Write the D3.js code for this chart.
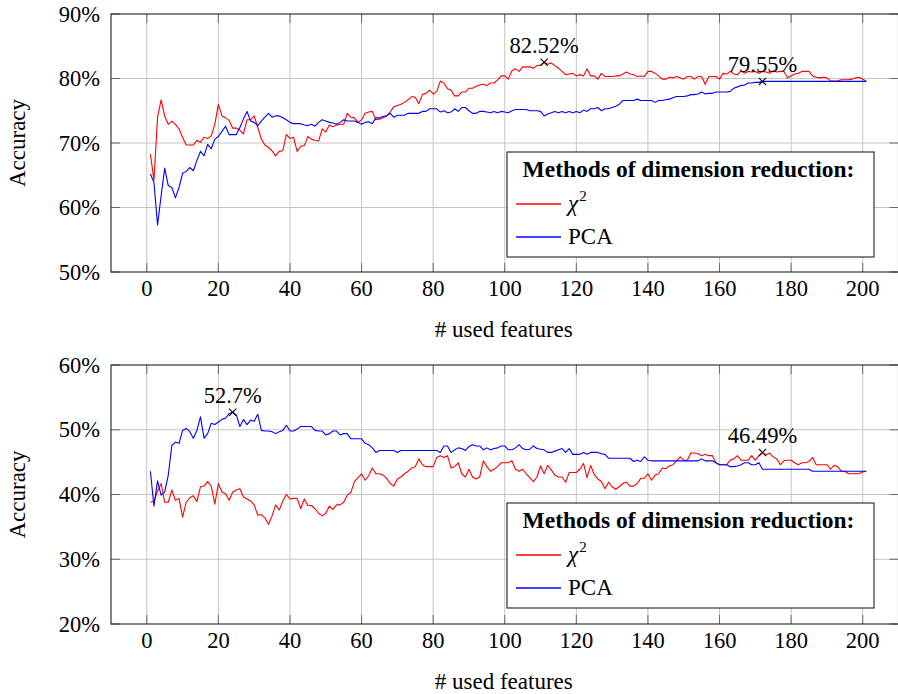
<!DOCTYPE html>
<html>
<head>
<meta charset="utf-8">
<script src="https://cdn.jsdelivr.net/npm/d3@7"></script>
<style>
  body { margin: 0; background: #fff; }
  svg { display: block; }
</style>
</head>
<body>
<svg id="chart" width="898" height="694"></svg>
<script>
// Number of features used (x values)
const features = d3.range(1, 202);
const xTicks = d3.range(0, 201, 20);
const topYTicks = [50, 60, 70, 80, 90];
const bottomYTicks = [20, 30, 40, 50, 60];
const seriesNames = ["\u03c7", "PCA"];
const legendTitle = "Methods of dimension reduction:";
const xLabel = "# used features";
const yLabel = "Accuracy";

// Upper plot: accuracy (%) per number of features
const chi2Top = [
  68.3, 64.2, 74.0, 76.7, 74.2, 72.9, 73.4, 72.9, 72.2, 70.9,
  69.7, 69.7, 69.7, 70.4, 70.1, 70.9, 70.7, 71.1, 72.9, 76.0,
  74.2, 73.9, 73.5, 72.3, 72.3, 72.0, 71.4, 73.6, 73.6, 74.2,
  72.4, 70.6, 69.7, 69.3, 68.8, 68.0, 68.7, 68.8, 71.3, 70.7,
  70.9, 68.7, 69.5, 69.6, 71.0, 70.6, 70.4, 70.3, 72.2, 71.7,
  72.8, 72.5, 72.8, 72.9, 72.9, 74.6, 74.0, 73.9, 73.2, 73.6,
  74.6, 74.8, 74.9, 73.6, 73.7, 73.9, 74.2, 74.8, 75.6, 75.8,
  76.0, 76.3, 76.7, 77.2, 77.1, 76.1, 77.5, 77.7, 78.2, 77.6,
  78.0, 79.6, 79.3, 78.4, 78.2, 77.3, 77.3, 77.9, 77.9, 78.5,
  78.5, 78.8, 79.0, 79.1, 78.9, 79.3, 79.3, 79.8, 80.4, 80.4,
  79.9, 81.2, 81.5, 81.1, 81.8, 81.8, 81.8, 81.6, 82.0, 82.1,
  82.52, 82.2, 82.4, 82.0, 81.6, 81.1, 80.6, 80.7, 80.8, 80.4,
  80.6, 80.4, 81.5, 80.4, 80.4, 79.9, 80.8, 80.3, 80.3, 80.3,
  80.4, 80.4, 80.7, 81.0, 80.7, 80.6, 80.3, 80.4, 80.3, 81.1,
  81.1, 80.8, 80.4, 79.9, 79.9, 80.2, 80.1, 80.3, 80.1, 79.9,
  80.3, 80.3, 79.9, 80.3, 80.3, 79.1, 80.3, 80.3, 80.3, 79.9,
  80.8, 80.7, 81.1, 80.7, 80.6, 81.2, 80.8, 81.1, 81.0, 81.1,
  80.8, 81.1, 81.0, 80.8, 81.2, 81.0, 81.1, 81.1, 80.1, 80.4,
  80.7, 80.8, 81.1, 81.1, 81.1, 80.4, 80.2, 80.1, 80.2, 80.1,
  79.6, 79.6, 79.6, 79.8, 79.8, 79.8, 79.9, 80.1, 80.2, 79.9,
  79.6
];
const pcaTop = [
  65.2, 63.9, 57.3, 61.8, 66.1, 63.4, 63.1, 61.5, 63.1, 65.3,
  65.6, 66.2, 65.7, 67.3, 68.7, 68.0, 69.8, 69.1, 70.6, 71.0,
  71.8, 72.6, 71.3, 71.3, 71.3, 72.4, 73.7, 74.9, 73.4, 73.2,
  72.7, 73.4, 74.0, 74.6, 74.0, 74.2, 74.2, 73.9, 73.6, 73.2,
  73.0, 73.0, 73.0, 72.8, 72.7, 72.9, 72.6, 73.2, 73.6, 73.4,
  73.2, 73.1, 72.9, 73.2, 73.6, 73.4, 73.4, 73.4, 73.2, 72.9,
  73.2, 73.3, 73.0, 73.9, 73.9, 74.1, 74.2, 74.6, 74.0, 74.3,
  74.3, 74.3, 74.6, 74.6, 74.6, 74.6, 74.9, 74.9, 75.3, 75.3,
  75.3, 74.8, 75.0, 74.7, 74.8, 75.3, 74.9, 75.5, 75.5, 75.0,
  74.6, 74.6, 74.9, 74.9, 74.8, 74.7, 74.9, 74.7, 74.9, 74.8,
  74.7, 75.0, 75.2, 75.2, 75.2, 75.2, 75.0, 75.0, 75.0, 74.9,
  74.2, 74.5, 74.7, 74.9, 74.7, 74.9, 74.7, 74.9, 74.7, 74.9,
  74.7, 75.1, 74.9, 75.3, 75.3, 75.5, 75.0, 75.3, 75.3, 75.5,
  75.7, 76.0, 76.6, 76.6, 76.6, 76.6, 76.8, 76.6, 76.6, 76.6,
  76.6, 76.3, 76.6, 76.6, 76.7, 76.8, 77.0, 77.2, 77.2, 77.2,
  77.3, 77.5, 77.5, 77.6, 77.9, 77.6, 77.7, 77.7, 77.9, 77.9,
  77.9, 77.9, 78.0, 78.5, 78.7, 78.9, 79.0, 79.3, 79.3, 79.4,
  79.4, 79.55, 79.55, 79.55, 79.55, 79.55, 79.55, 79.55, 79.55, 79.55,
  79.55, 79.55, 79.55, 79.55, 79.55, 79.55, 79.55, 79.55, 79.55, 79.55,
  79.55, 79.55, 79.55, 79.55, 79.55, 79.55, 79.55, 79.55, 79.55, 79.55,
  79.55
];

// Lower plot: accuracy (%) per number of features
const chi2Bottom = [
  38.8, 39.0, 40.5, 41.7, 38.8, 38.8, 40.7, 39.1, 39.4, 36.5,
  38.8, 39.5, 39.8, 38.9, 41.2, 41.3, 42.0, 41.3, 38.5, 41.7,
  40.4, 40.1, 39.1, 40.4, 40.7, 40.9, 39.6, 39.3, 39.0, 38.4,
  36.8, 36.9, 36.4, 35.4, 36.7, 38.4, 37.6, 39.0, 40.0, 39.3,
  39.4, 39.4, 37.8, 39.3, 38.3, 38.3, 37.8, 37.1, 36.7, 37.1,
  38.2, 37.7, 38.4, 38.4, 38.8, 39.9, 40.3, 42.0, 42.6, 43.2,
  42.2, 42.9, 44.1, 43.2, 43.2, 43.0, 42.5, 41.7, 41.3, 42.4,
  42.7, 43.2, 43.6, 44.1, 44.3, 45.5, 44.6, 44.3, 44.3, 44.3,
  45.7, 46.0, 45.7, 46.0, 44.1, 44.3, 44.9, 43.2, 42.7, 43.9,
  42.7, 42.4, 42.7, 45.2, 44.3, 43.6, 43.9, 44.3, 44.9, 44.9,
  44.9, 45.2, 43.9, 43.6, 43.9, 43.2, 42.6, 42.0, 42.7, 44.4,
  43.2, 44.5, 43.8, 43.0, 42.7, 42.7, 41.9, 43.4, 43.4, 43.4,
  43.9, 44.8, 42.6, 44.5, 43.1, 42.4, 42.0, 40.9, 41.9, 41.2,
  40.8, 41.2, 41.7, 41.9, 41.3, 41.3, 41.7, 42.5, 42.5, 43.2,
  42.2, 43.0, 43.2, 44.1, 44.0, 44.4, 44.6, 45.2, 45.8, 45.3,
  45.3, 46.4, 46.4, 46.3, 46.0, 46.2, 46.0, 46.0, 44.9, 44.6,
  44.6, 44.6, 45.3, 45.5, 46.0, 45.3, 45.3, 45.3, 46.0, 45.3,
  46.0, 46.49, 46.1, 46.4, 45.8, 45.5, 44.6, 45.2, 45.3, 45.3,
  44.9, 44.6, 44.9, 44.9, 45.1, 45.7, 44.6, 44.6, 44.6, 44.6,
  43.9, 44.5, 44.3, 43.6, 43.6, 43.2, 43.2, 43.2, 43.2, 43.5,
  43.6
];
const pcaBottom = [
  43.6, 38.2, 42.1, 39.9, 40.4, 43.0, 47.6, 48.1, 47.9, 49.9,
  50.2, 49.7, 48.7, 49.9, 52.0, 48.7, 49.4, 51.0, 50.8, 51.2,
  51.6, 51.8, 52.5, 52.7, 52.3, 50.5, 51.6, 50.8, 51.5, 51.3,
  52.4, 49.9, 49.8, 49.8, 49.7, 49.4, 49.7, 49.9, 50.7, 49.8,
  49.8, 50.1, 50.5, 50.5, 50.5, 50.5, 49.9, 49.8, 49.8, 49.2,
  49.4, 49.8, 49.8, 49.2, 49.4, 49.4, 48.6, 48.6, 48.6, 48.6,
  47.9, 47.7, 47.2, 46.5, 46.8, 46.8, 46.8, 46.8, 46.8, 46.5,
  46.8, 46.8, 46.8, 46.8, 46.8, 46.8, 46.8, 46.8, 46.8, 46.8,
  46.8, 46.5, 47.5, 47.5, 46.5, 46.9, 47.2, 47.1, 46.8, 47.4,
  47.7, 47.5, 47.5, 46.9, 47.2, 46.9, 47.1, 47.2, 47.5, 47.5,
  46.9, 46.9, 47.2, 47.7, 47.1, 46.9, 47.0, 47.5, 47.1, 47.0,
  46.9, 46.5, 46.5, 46.7, 46.9, 47.1, 46.5, 47.1, 46.2, 46.2,
  46.2, 46.5, 46.2, 46.5, 46.5, 46.5, 46.3, 46.2, 45.6, 45.6,
  45.6, 45.6, 45.6, 45.6, 45.6, 45.1, 45.3, 45.1, 45.8, 45.3,
  45.2, 45.2, 45.2, 45.2, 45.2, 45.2, 45.2, 45.2, 45.2, 45.2,
  45.2, 45.2, 45.2, 45.2, 45.5, 45.2, 45.2, 45.2, 44.9, 44.6,
  44.6, 44.6, 44.3, 44.3, 44.4, 44.6, 44.9, 44.9, 44.6, 44.6,
  44.9, 43.9, 43.9, 43.9, 43.9, 43.9, 43.9, 43.9, 43.9, 43.9,
  43.9, 43.9, 43.9, 43.9, 43.9, 43.6, 43.6, 43.6, 43.6, 43.6,
  43.6, 43.6, 43.6, 43.6, 43.6, 43.6, 43.6, 43.6, 43.6, 43.6,
  43.6
];

// Highlighted maxima: [series, feature count]
const topMarks = [[chi2Top, 111], [pcaTop, 172]];
const bottomMarks = [[pcaBottom, 24], [chi2Bottom, 172]];

const colors = ["#ff0000", "#0000ff"];
const serif = "'Liberation Serif', 'Times New Roman', serif";
const svg = d3.select("#chart");

const left = 111, right = 898.5;
const x = d3.scaleLinear().domain([-10, 210]).range([left, right]);

function drawPanel(top, bottom, yTicks, chi2, pca, marks) {
  const y = d3.scaleLinear().domain([yTicks[0], yTicks[yTicks.length - 1]]).range([bottom, top]);
  const g = svg.append("g");

  // grid
  g.append("g").selectAll("line").data(xTicks).join("line")
    .attr("x1", d => x(d)).attr("x2", d => x(d))
    .attr("y1", top).attr("y2", bottom)
    .attr("stroke", "#c4c4c4").attr("stroke-width", 1);
  g.append("g").selectAll("line").data(yTicks.slice(1, -1)).join("line")
    .attr("x1", left).attr("x2", right)
    .attr("y1", d => y(d)).attr("y2", d => y(d))
    .attr("stroke", "#c4c4c4").attr("stroke-width", 1);

  // inward tick marks on all four sides
  const tk = 9;
  const tickColor = "#6a6a6a";
  g.append("g").selectAll("path").data(xTicks).join("path")
    .attr("d", d => `M${x(d)},${top}v${tk}M${x(d)},${bottom}v${-tk}`)
    .attr("stroke", tickColor).attr("stroke-width", 1);
  g.append("g").selectAll("path").data(yTicks).join("path")
    .attr("d", d => `M${left},${y(d)}h${tk}M${right},${y(d)}h${-tk}`)
    .attr("stroke", tickColor).attr("stroke-width", 1);

  // series lines
  [chi2, pca].forEach((vals, i) => {
    g.append("path")
      .datum(vals)
      .attr("fill", "none")
      .attr("stroke", colors[i])
      .attr("stroke-width", 1.1)
      .attr("stroke-linejoin", "round")
      .attr("d", d3.line().x((d, j) => x(features[j])).y(d => y(d)));
  });

  // frame
  g.append("rect")
    .attr("x", left).attr("y", top)
    .attr("width", right - left).attr("height", bottom - top)
    .attr("fill", "none").attr("stroke", "#222").attr("stroke-width", 1.1);

  // tick labels
  g.append("g").selectAll("text").data(yTicks).join("text")
    .attr("x", 100).attr("y", d => y(d) + 7.5)
    .attr("text-anchor", "end")
    .attr("font-family", serif).attr("font-size", 22.5)
    .text(d => d + "%");
  g.append("g").selectAll("text").data(xTicks).join("text")
    .attr("x", d => x(d)).attr("y", bottom + 24)
    .attr("text-anchor", "middle")
    .attr("font-family", serif).attr("font-size", 22.5)
    .text(d => d);

  // axis titles
  g.append("text")
    .attr("transform", `translate(25,${(top + bottom) / 2}) rotate(-90)`)
    .attr("text-anchor", "middle")
    .attr("font-family", serif).attr("font-size", 23)
    .text(yLabel);
  g.append("text")
    .attr("x", (left + right) / 2 - 1).attr("y", bottom + 65)
    .attr("text-anchor", "middle")
    .attr("font-family", serif).attr("font-size", 23)
    .text(xLabel);

  // maxima markers with value labels
  marks.forEach(([vals, f]) => {
    const v = vals[features.indexOf(f)];
    const px = x(f), py = y(v), s = 3.6;
    g.append("path")
      .attr("d", `M${px - s},${py - s}L${px + s},${py + s}M${px - s},${py + s}L${px + s},${py - s}`)
      .attr("stroke", "#000").attr("stroke-width", 1.1);
    g.append("text")
      .attr("x", px).attr("y", py - 9)
      .attr("text-anchor", "middle")
      .attr("font-family", serif).attr("font-size", 22.5)
      .text(v + "%");
  });

  // legend
  const lx = 507, ly = top + 138, lw = 367, lh = 105;
  const lg = g.append("g");
  lg.append("rect")
    .attr("x", lx).attr("y", ly).attr("width", lw).attr("height", lh)
    .attr("fill", "#fff").attr("stroke", "#222").attr("stroke-width", 1.1);
  lg.append("text")
    .attr("x", lx + lw / 2 - 2).attr("y", ly + 25)
    .attr("text-anchor", "middle")
    .attr("font-family", serif).attr("font-size", 23.5).attr("font-weight", "bold")
    .text(legendTitle);
  const rowsY = [ly + 52, ly + 85];
  seriesNames.forEach((name, i) => {
    lg.append("line")
      .attr("x1", lx + 9).attr("x2", lx + 54)
      .attr("y1", rowsY[i]).attr("y2", rowsY[i])
      .attr("stroke", colors[i]).attr("stroke-width", 1.6);
    const t = lg.append("text")
      .attr("x", lx + 61).attr("y", rowsY[i] + 7)
      .attr("font-family", serif).attr("font-size", 23);
    if (i === 0) {
      t.append("tspan").attr("font-style", "italic").text(name);
      t.append("tspan").attr("font-size", 15).attr("dy", -10).attr("dx", 1).text("2");
    } else {
      t.text(name);
    }
  });
}

drawPanel(14, 272, topYTicks, chi2Top, pcaTop, topMarks);
drawPanel(365, 624, bottomYTicks, chi2Bottom, pcaBottom, bottomMarks);
</script>
</body>
</html>
